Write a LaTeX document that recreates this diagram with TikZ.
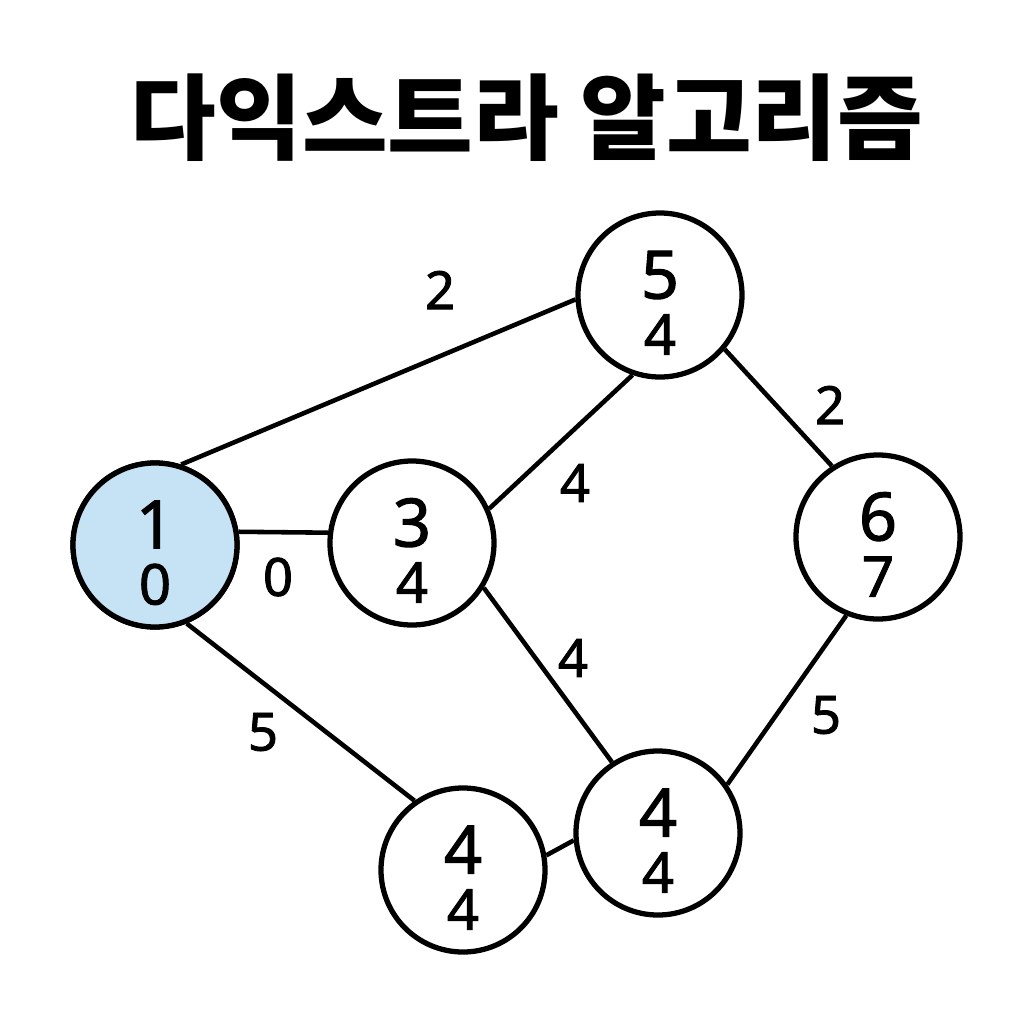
\documentclass[tikz,border=0pt]{standalone}
\usepackage{fontspec}
\setmainfont{Noto Sans}
\newfontfamily\numfont{Noto Sans}[FakeBold=1.6]
\newfontfamily\krfont{Noto Sans CJK KR}
\usepackage{xcolor}
\usepackage{tikz}
\usetikzlibrary{positioning}

\definecolor{startblue}{HTML}{C5E3F5}

\begin{document}
\begin{tikzpicture}[
    vertex/.style={circle, draw=black, line width=1.5pt, minimum size=1.64cm, inner sep=0pt, align=center, fill=white, font=\numfont},
    weight/.style={font=\numfont\fontsize{15}{15}\selectfont},
    edge/.style={line width=1.3pt}
]
    \useasboundingbox (0,0) rectangle (10.24,-10.24);

    % Title
    \node (title) at (5.27,-1.18) {\krfont\bfseries\fontsize{26.5}{26.5}\selectfont 다익스트라 알고리즘};

    % Vertices: name / position / number / distance
    \foreach \name/\pos/\num/\dist in {v1/{(1.55,-5.45)}/1/0, v3/{(4.12,-5.43)}/3/4,
        v5/{(6.60,-2.95)}/5/4, v6/{(8.78,-5.37)}/6/7, v4/{(6.58,-8.33)}/4/4, v2/{(4.63,-8.70)}/4/4} {
        \node[vertex] (\name) at \pos {\fontsize{19}{19}\selectfont\rule{0pt}{18pt}\num\\[4pt]\fontsize{16}{16}\selectfont\dist};
    }
    \node[vertex, fill=startblue] at (v1) {\fontsize{19}{19}\selectfont\rule{0pt}{18pt}1\\[4pt]\fontsize{16}{16}\selectfont 0};

    % Edges (border angles)
    \foreach \a/\b in {v1.72/v5.183, v1.9/v3.173, v1.-68/v2.125, v3.24/v5.251,
        v3.-32/v4.123, v5.-40/v6.123, v6.-112/v4.35, v2.10/v4.185} {
        \draw[edge] (\a) -- (\b);
    }

    % Weights
    \node[weight] (w15) at (4.40,-2.90) {2};
    \node[weight] (w13) at (2.78,-5.77) {0};
    \node[weight] (w12) at (2.63,-7.32) {5};
    \node[weight] (w35) at (5.75,-4.83) {4};
    \node[weight] (w34) at (5.73,-6.58) {4};
    \node[weight] (w56) at (8.30,-4.05) {2};
    \node[weight] (w64) at (8.26,-7.15) {5};
\end{tikzpicture}
\end{document}
